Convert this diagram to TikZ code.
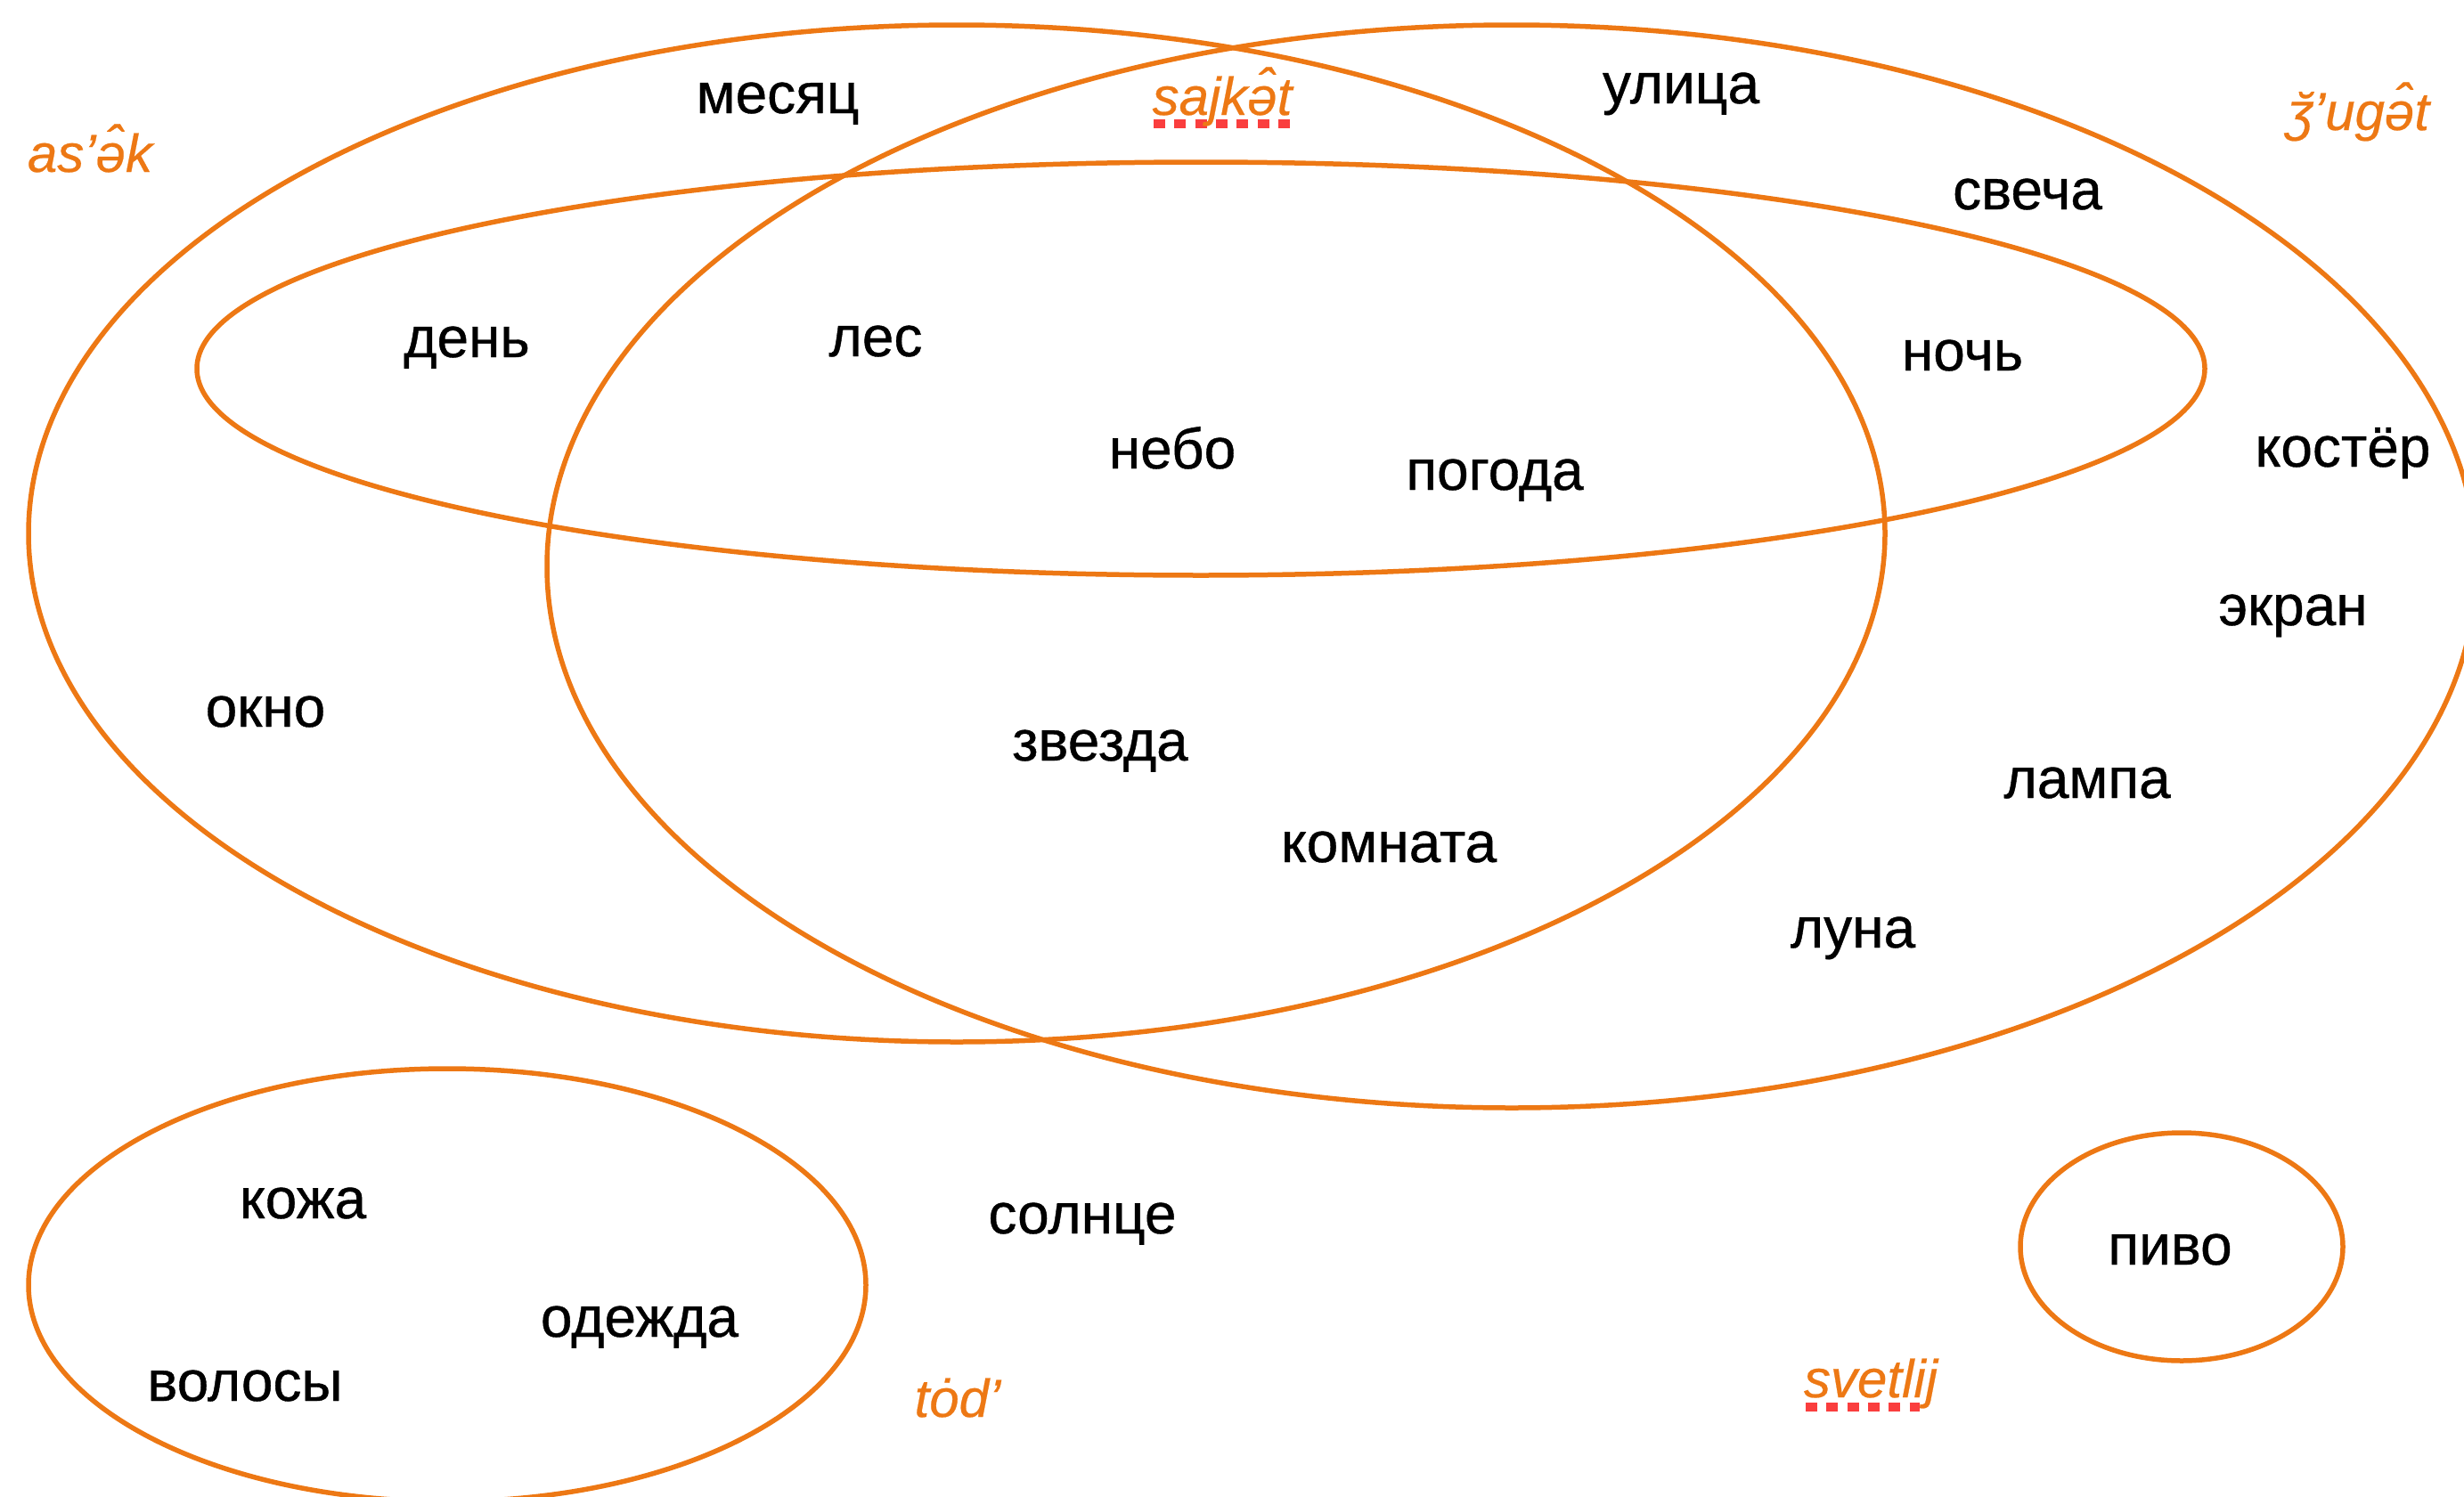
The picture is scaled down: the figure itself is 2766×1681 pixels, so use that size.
\documentclass[tikz,border=0pt]{standalone}
\usepackage{fontspec}
\setmainfont{Liberation Sans}[
  BoldFont={Liberation Sans}, BoldFeatures={FakeBold=0.6},
  BoldItalicFont={Liberation Sans Italic}, BoldItalicFeatures={FakeBold=0.4}]
\definecolor{setorange}{RGB}{237,120,20}
\definecolor{spellred}{RGB}{250,62,62}
\begin{document}
\begin{tikzpicture}[x=1pt,y=-1pt,
  setline/.style={draw=setorange, line width=5.5pt},
  word/.style={anchor=base, font=\fontsize{64}{64}\selectfont\bfseries, text=black, inner sep=0pt},
  setname/.style={anchor=base, font=\fontsize{60}{60}\selectfont\bfseries\itshape, text=setorange, inner sep=0pt},
  spellmark/.style={draw=spellred, line width=10pt, dash pattern=on 13pt off 10.3pt}]
\useasboundingbox (0,0) rectangle (2766,1681);
\clip (0,0) rectangle (2766,1681);

% sets
\draw[setline] (1074,599) ellipse [x radius=1042pt, y radius=571pt];
\draw[setline] (1697,636) ellipse [x radius=1083pt, y radius=608pt];
\draw[setline] (1348,414) ellipse [x radius=1127pt, y radius=232pt];
\draw[setline] (502,1443) ellipse [x radius=470pt, y radius=243pt];
\draw[setline] (2449,1400) ellipse [x radius=181pt, y radius=128pt];

% spelling marks under two set names
\coordinate (sajA) at (1295,139);
\coordinate (sajB) at (1448,139);
\coordinate (svA) at (2027,1580);
\coordinate (svB) at (2155,1580);
\draw[spellmark] (sajA) -- (sajB);
\draw[spellmark] (svA) -- (svB);

% set names
\node[setname] (asek)   at (101,193)  {as’ə̂k};
\node[setname] (sajket) at (1372,129) {sajkə̂t};
\node[setname] (zuget)  at (2647,146) {ʒ̆’ugə̂t};
\node[setname] (tod)    at (1075,1591) {tȯd’};
\node[setname] (svetl)  at (2100,1569) {svetlij};

% words
\node[word] (mesjac)  at (873,127)   {месяц};
\node[word] (ulica)   at (1887,116)  {улица};
\node[word] (sveca)   at (2276,235)  {свеча};
\node[word] (den)     at (524,401)   {день};
\node[word] (les)     at (983,400)   {лес};
\node[word] (noc)     at (2203,416)  {ночь};
\node[word] (nebo)    at (1316,526)  {небо};
\node[word] (pogoda)  at (1678,550)  {погода};
\node[word] (koster)  at (2630,524)  {костёр};
\node[word] (ekran)   at (2574,702)  {экран};
\node[word] (okno)    at (298,816)   {окно};
\node[word] (zvezda)  at (1235,854)  {звезда};
\node[word] (lampa)   at (2343,896)  {лампа};
\node[word] (komnata) at (1559,968)  {комната};
\node[word] (luna)    at (2080,1064) {луна};
\node[word] (koza)    at (340,1368)  {кожа};
\node[word] (solnce)  at (1215,1385) {солнце};
\node[word] (odezda)  at (718,1501)  {одежда};
\node[word] (volosy)  at (275,1573)  {волосы};
\node[word] (pivo)    at (2436,1420) {пиво};
\end{tikzpicture}
\end{document}
